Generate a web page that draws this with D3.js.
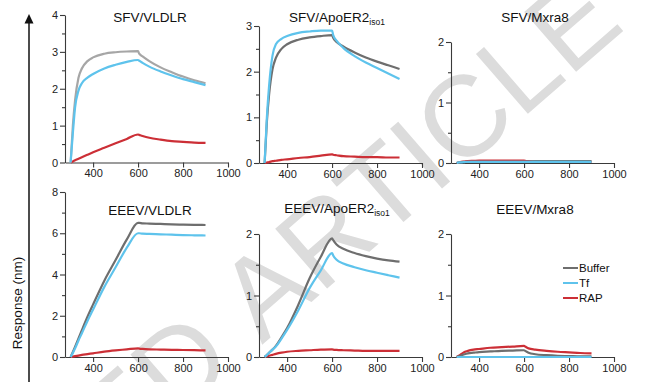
<!DOCTYPE html>
<html>
<head>
<meta charset="utf-8">
<script src="https://cdn.jsdelivr.net/npm/d3@7"></script>
<style>
  body { margin: 0; background: #fff; }
  svg { display: block; font-family: "Liberation Sans", Arial, sans-serif; }
</style>
</head>
<body>
<div id="chart"></div>
<script>
// sampling times (s), shared by every trace
const times = [300, 310, 320, 335, 350, 375, 400, 450, 500, 550, 600, 605, 620, 650, 700, 750, 800, 850, 900];

const seriesNames = ["Buffer", "Tf", "RAP"];
const xTicks = [400, 600, 800, 1000];

// SFV / VLDLR
const sfvVldlrBuffer = [0, 1.0, 1.7, 2.3, 2.55, 2.75, 2.85, 2.95, 2.99, 3.01, 3.02, 2.95, 2.88, 2.75, 2.58, 2.45, 2.33, 2.23, 2.15];
const sfvVldlrTf     = [0, 0.8, 1.5, 1.95, 2.15, 2.3, 2.4, 2.55, 2.65, 2.73, 2.78, 2.76, 2.7, 2.6, 2.47, 2.36, 2.26, 2.18, 2.1];
const sfvVldlrRap    = [0, 0.03, 0.06, 0.1, 0.14, 0.21, 0.28, 0.4, 0.52, 0.64, 0.76, 0.75, 0.72, 0.67, 0.62, 0.58, 0.56, 0.54, 0.53];

// SFV / ApoER2 iso1
const sfvApoBuffer = [0, 0.9, 1.5, 2.05, 2.3, 2.5, 2.6, 2.7, 2.75, 2.78, 2.8, 2.74, 2.65, 2.55, 2.42, 2.31, 2.22, 2.14, 2.06];
const sfvApoTf     = [0, 1.0, 1.7, 2.35, 2.6, 2.72, 2.78, 2.85, 2.88, 2.9, 2.9, 2.8, 2.68, 2.52, 2.34, 2.2, 2.08, 1.96, 1.84];
const sfvApoRap    = [0, 0.01, 0.02, 0.04, 0.05, 0.07, 0.08, 0.11, 0.13, 0.16, 0.19, 0.18, 0.17, 0.15, 0.14, 0.13, 0.13, 0.12, 0.12];

// SFV / Mxra8
const sfvMxraBuffer = [0, 0.01, 0.015, 0.02, 0.02, 0.02, 0.02, 0.02, 0.02, 0.02, 0.02, 0.02, 0.025, 0.03, 0.03, 0.03, 0.03, 0.03, 0.03];
const sfvMxraTf     = [0, 0.01, 0.01, 0.015, 0.02, 0.02, 0.02, 0.02, 0.02, 0.02, 0.02, 0.02, 0.02, 0.02, 0.02, 0.02, 0.02, 0.02, 0.02];
const sfvMxraRap    = [0, 0.01, 0.02, 0.025, 0.03, 0.035, 0.04, 0.04, 0.04, 0.04, 0.04, 0.035, 0.03, 0.025, 0.02, 0.02, 0.02, 0.02, 0.02];

// EEEV / VLDLR
const eeevVldlrBuffer = [0, 0.25, 0.5, 0.9, 1.3, 1.95, 2.55, 3.7, 4.7, 5.7, 6.5, 6.5, 6.48, 6.47, 6.45, 6.43, 6.42, 6.41, 6.4];
const eeevVldlrTf     = [0, 0.2, 0.42, 0.8, 1.15, 1.75, 2.3, 3.4, 4.35, 5.3, 6.0, 6.0, 5.98, 5.97, 5.95, 5.93, 5.91, 5.9, 5.89];
const eeevVldlrRap    = [0, 0.02, 0.04, 0.07, 0.1, 0.14, 0.18, 0.26, 0.32, 0.37, 0.42, 0.41, 0.39, 0.37, 0.36, 0.35, 0.34, 0.33, 0.32];

// EEEV / ApoER2 iso1
const eeevApoBuffer = [0, 0.03, 0.07, 0.12, 0.18, 0.32, 0.47, 0.85, 1.28, 1.63, 1.93, 1.9, 1.83, 1.76, 1.69, 1.64, 1.6, 1.57, 1.55];
const eeevApoTf     = [0, 0.03, 0.07, 0.12, 0.17, 0.3, 0.44, 0.76, 1.12, 1.41, 1.69, 1.65, 1.58, 1.52, 1.46, 1.41, 1.37, 1.33, 1.29];
const eeevApoRap    = [0, 0.01, 0.02, 0.035, 0.05, 0.07, 0.085, 0.1, 0.11, 0.12, 0.125, 0.12, 0.115, 0.11, 0.105, 0.1, 0.1, 0.1, 0.1];

// EEEV / Mxra8
const eeevMxraBuffer = [0, 0.01, 0.025, 0.045, 0.06, 0.07, 0.08, 0.09, 0.1, 0.105, 0.11, 0.1, 0.07, 0.045, 0.03, 0.02, 0.015, 0.01, 0.01];
const eeevMxraTf     = [0, 0, 0, 0, 0, 0, 0, 0, 0, 0, 0, 0, 0, 0, 0, 0, 0, 0, 0];
const eeevMxraRap    = [0, 0.02, 0.045, 0.08, 0.1, 0.12, 0.13, 0.15, 0.16, 0.17, 0.18, 0.17, 0.14, 0.12, 0.1, 0.085, 0.075, 0.065, 0.06];

const colors = { Buffer: "#6e6e6e", Tf: "#5ec3ec", RAP: "#cc2f36" };

// layout of the six small panels
const panels = [
  { title: "SFV/VLDLR", sub: "", tx: 150, ty: 22, left: 65, bottom: 162.5, top: 15, yMax: 4, yStep: 1, minor: 0.5,
    series: { Buffer: sfvVldlrBuffer, Tf: sfvVldlrTf, RAP: sfvVldlrRap }, bufferColor: "#a6a6a6" },
  { title: "SFV/ApoER2", sub: "iso1", tx: 337, ty: 22, left: 259, bottom: 163, top: 26, yMax: 3, yStep: 1, minor: 0.5,
    series: { Buffer: sfvApoBuffer, Tf: sfvApoTf, RAP: sfvApoRap } },
  { title: "SFV/Mxra8", sub: "", tx: 535, ty: 22, left: 451, bottom: 163, top: 42, yMax: 2, yStep: 1, minor: 0.5,
    series: { Buffer: sfvMxraBuffer, Tf: sfvMxraTf, RAP: sfvMxraRap } },
  { title: "EEEV/VLDLR", sub: "", tx: 150, ty: 215, left: 65, bottom: 357, top: 192, yMax: 8, yStep: 2, minor: 1,
    series: { Buffer: eeevVldlrBuffer, Tf: eeevVldlrTf, RAP: eeevVldlrRap } },
  { title: "EEEV/ApoER2", sub: "iso1", tx: 337, ty: 213, left: 259, bottom: 357, top: 234, yMax: 2, yStep: 1, minor: 0.5,
    series: { Buffer: eeevApoBuffer, Tf: eeevApoTf, RAP: eeevApoRap } },
  { title: "EEEV/Mxra8", sub: "", tx: 535, ty: 214, left: 451, bottom: 357, top: 234, yMax: 2, yStep: 1, minor: 0.5,
    series: { Buffer: eeevMxraBuffer, Tf: eeevMxraTf, RAP: eeevMxraRap }, legend: true }
];

const W = 650, H = 382;
const axisColor = "#3a3a3a";

const svg = d3.select("#chart").append("svg")
  .attr("width", W)
  .attr("height", H);

// faint publisher watermark behind everything
const wm = svg.append("g")
  .attr("transform", "translate(262,345) rotate(-41)")
  .attr("fill", "#dcdcdc")
  .style("font-size", "115px");
wm.append("text").attr("text-anchor", "end").text("ACCELERATED\u00a0");
wm.append("text").attr("text-anchor", "start").text("ARTICLE PREVIEW");

const line = d3.line().curve(d3.curveMonotoneX);

panels.forEach(p => {
  const x = d3.scaleLinear().domain([275, 1000]).range([p.left, p.left + 163]);
  const y = d3.scaleLinear().domain([0, p.yMax]).range([p.bottom, p.top]);
  const g = svg.append("g");

  // minor y ticks
  const minorVals = d3.range(0, p.yMax + 1e-9, p.minor).filter(v => Math.abs(v / p.yStep - Math.round(v / p.yStep)) > 1e-6);
  g.append("g")
    .attr("transform", `translate(${p.left},0)`)
    .call(d3.axisLeft(y).tickValues(minorVals).tickSize(3).tickSizeOuter(0).tickFormat(""))
    .call(a => a.select(".domain").remove());

  // major y axis
  g.append("g")
    .attr("transform", `translate(${p.left},0)`)
    .call(d3.axisLeft(y).tickValues(d3.range(0, p.yMax + 1e-9, p.yStep)).tickSize(5).tickSizeOuter(0).tickPadding(2).tickFormat(d3.format("d")));

  // x axis
  g.append("g")
    .attr("transform", `translate(0,${p.bottom})`)
    .call(d3.axisBottom(x).tickValues(xTicks).tickSize(5).tickSizeOuter(0).tickPadding(2).tickFormat(d3.format("d")));

  g.selectAll(".domain, .tick line").attr("stroke", axisColor).attr("stroke-width", 1.1);
  g.selectAll(".tick text").attr("fill", "#222").style("font-size", "11px")
    .style("font-family", "'Liberation Sans', Arial, sans-serif");

  // traces: RAP first, then Buffer, then Tf on top
  ["RAP", "Buffer", "Tf"].forEach(name => {
    const vals = p.series[name];
    const pts = times.map((t, i) => [x(t), y(vals[i])]);
    g.append("path")
      .attr("d", line(pts))
      .attr("fill", "none")
      .attr("stroke", name === "Buffer" && p.bufferColor ? p.bufferColor : colors[name])
      .attr("stroke-width", 2.2)
      .attr("stroke-linejoin", "round");
  });

  // panel title
  const t = g.append("text")
    .attr("x", p.tx)
    .attr("y", p.ty)
    .attr("text-anchor", "middle")
    .attr("fill", "#111")
    .style("font-size", "13.5px")
    .text(p.title);
  if (p.sub) {
    t.append("tspan").attr("dy", 3).style("font-size", "8.5px").text(p.sub);
  }

  if (p.legend) {
    const lg = g.append("g").attr("transform", "translate(563,268)");
    seriesNames.forEach((name, i) => {
      const row = lg.append("g").attr("transform", `translate(0,${i * 15})`);
      row.append("line").attr("x1", 0).attr("x2", 15).attr("y1", 0).attr("y2", 0)
        .attr("stroke", colors[name]).attr("stroke-width", 2);
      row.append("text").attr("x", 16).attr("y", 4).attr("fill", "#111")
        .style("font-size", "11.5px").text(name);
    });
  }
});

// shared y-axis arrow and label
svg.append("line")
  .attr("x1", 29).attr("x2", 29)
  .attr("y1", H).attr("y2", 22)
  .attr("stroke", "#111").attr("stroke-width", 1.5);
svg.append("path")
  .attr("d", "M29,14 L24.5,23.5 L33.5,23.5 Z")
  .attr("fill", "#111");
svg.append("text")
  .attr("transform", "translate(22,303) rotate(-90)")
  .attr("text-anchor", "middle")
  .attr("fill", "#111")
  .style("font-size", "13.5px")
  .text("Response (nm)");
</script>
</body>
</html>
